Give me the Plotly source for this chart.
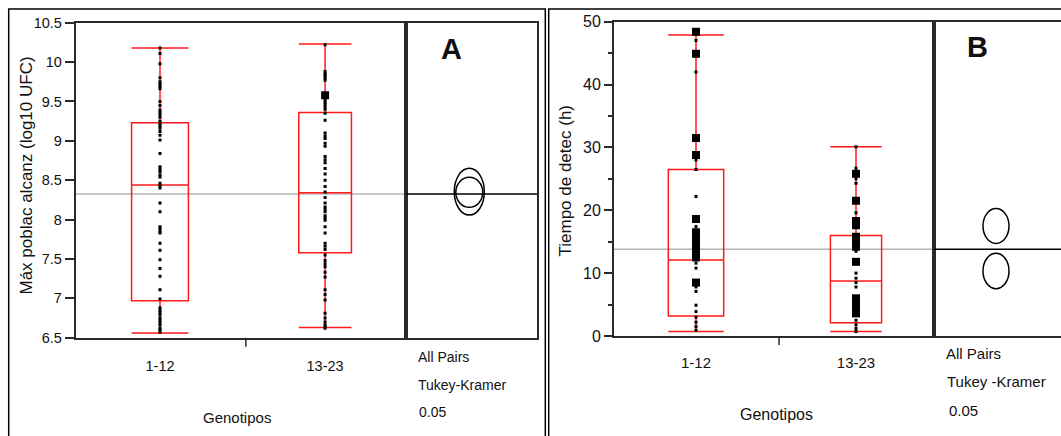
import plotly.graph_objects as go

W, H = 1061, 436
def fx(p): return p / W
def fy(p): return 1 - p / H

# ---------------- data ----------------
categories = ["1-12", "13-23"]
cat_pos_A = [1.0, 2.0]
cat_pos_B = [1.0, 2.0]

# Panel A: Máx poblac alcanz (log10 UFC)
A_lowerfence = [6.56, 6.63]
A_q1 = [6.97, 7.58]
A_median = [8.44, 8.34]
A_q3 = [9.23, 9.36]
A_upperfence = [10.18, 10.23]
A_pts_1_12 = [10.18, 10.11, 9.98, 9.80, 9.75, 9.72, 9.69, 9.66, 9.50, 9.45, 9.39, 9.36,
              9.33, 9.30, 9.25, 9.22, 9.19, 9.16, 9.12, 9.07, 9.01, 8.84, 8.67, 8.64,
              8.61, 8.57, 8.54, 8.46, 8.43, 8.40, 8.21, 8.10, 7.91, 7.88, 7.85, 7.83,
              7.70, 7.61, 7.49, 7.38, 7.28, 7.11, 6.99, 6.88, 6.85, 6.82, 6.79, 6.75,
              6.72, 6.69, 6.66, 6.62, 6.60, 6.57]
A_pts_13_23 = [10.22, 9.88, 9.85, 9.83, 9.80, 9.77, 9.52, 9.49, 9.46, 9.43, 9.40, 9.35,
               9.26, 9.10, 9.06, 9.03, 8.97, 8.93, 8.80, 8.76, 8.72, 8.65, 8.58, 8.50,
               8.42, 8.35, 8.28, 8.21, 8.16, 8.13, 8.10, 8.05, 8.02, 7.99, 7.91, 7.83,
               7.70, 7.66, 7.62, 7.55, 7.48, 7.44, 7.40, 7.33, 7.27, 7.11, 7.05, 6.98,
               6.81, 6.75, 6.70, 6.66, 6.64, 6.62]
A_big_13_23 = [9.58]
A_grand_mean = 8.325
A_circle_centers = [8.354, 8.346]
A_circle_yhalf = [0.297, 0.19]

# Panel B: Tiempo de detec (h)
B_lowerfence = [0.7, 0.7]
B_q1 = [3.2, 2.1]
B_median = [12.1, 8.75]
B_q3 = [26.5, 16.0]
B_upperfence = [47.9, 30.1]
B_big_1_12 = [48.4, 44.9, 31.5, 28.8, 18.6, 16.5, 15.6, 14.8, 14.0, 13.2, 12.5, 8.5]
B_pts_1_12 = [47.0, 42.0, 28.0, 26.5, 22.2, 17.4, 11.6, 10.8, 7.8, 7.1, 4.9, 3.9, 3.0,
              2.2, 1.5, 0.9]
B_big_13_23 = [25.8, 21.5, 18.3, 17.6, 15.8, 15.0, 14.2, 11.8, 6.0, 5.2, 4.4, 3.6]
B_pts_13_23 = [30.1, 26.7, 25.0, 24.3, 19.6, 13.5, 10.0, 9.2, 8.5, 7.8, 2.5, 1.8, 1.2, 0.7]
B_grand_mean = 13.8
B_circle_centers = [17.5, 10.34]
B_circle_yhalf = [2.78, 2.82]

# ---------------- styling ----------------
RED = "#ff1a1a"
AX = "#2a2a2a"
NARROW = "Liberation Sans Narrow, Arial Narrow, Liberation Sans, Arial"
NORMAL = "Liberation Sans, Arial, sans-serif"

fig = go.Figure()

box_w_A = [0.344, 0.319]
box_w_B = [0.346, 0.32]

def add_boxes(xref, yref, pos, lf, q1, med, q3, uf, widths):
    for i in range(len(pos)):
        fig.add_trace(go.Box(
            x=[pos[i]], lowerfence=[lf[i]], q1=[q1[i]], median=[med[i]], q3=[q3[i]],
            upperfence=[uf[i]], width=widths[i], whiskerwidth=1,
            line=dict(color=RED, width=1.5), fillcolor="rgba(0,0,0,0)",
            boxpoints=False, xaxis=xref, yaxis=yref, showlegend=False, hoverinfo="skip"))

def add_pts(xref, yref, x, ys, size):
    fig.add_trace(go.Scatter(
        x=[x] * len(ys), y=ys, mode="markers", xaxis=xref, yaxis=yref,
        marker=dict(symbol="square", size=size, color="black", line=dict(width=0)),
        showlegend=False, hoverinfo="skip"))

add_boxes("x", "y", cat_pos_A, A_lowerfence, A_q1, A_median, A_q3, A_upperfence, box_w_A)
add_pts("x", "y", cat_pos_A[0], A_pts_1_12, 3)
add_pts("x", "y", cat_pos_A[1], A_pts_13_23, 3)
add_pts("x", "y", cat_pos_A[1], A_big_13_23, 8)

add_boxes("x2", "y2", cat_pos_B, B_lowerfence, B_q1, B_median, B_q3, B_upperfence, box_w_B)
add_pts("x2", "y2", cat_pos_B[0], B_pts_1_12, 3)
add_pts("x2", "y2", cat_pos_B[1], B_pts_13_23, 3)
add_pts("x2", "y2", cat_pos_B[0], B_big_1_12, 8)
add_pts("x2", "y2", cat_pos_B[1], B_big_13_23, 8)

# ---------------- axes ----------------
A_top, A_bot = 22.7, 337.7
B_top, B_bot = 21.7, 336.0
common_line = dict(showline=True, linecolor=AX, linewidth=2, showgrid=False, zeroline=False,
                   automargin=False)

fig.update_layout(
    width=W, height=H, margin=dict(l=0, r=0, t=0, b=0, pad=0, autoexpand=False),
    paper_bgcolor="white", plot_bgcolor="white", showlegend=False,
    xaxis=dict(domain=[fx(75.8), fx(406)], range=[0.49, 2.49], anchor="y", mirror=True,
               tickvals=cat_pos_A, ticktext=categories, ticks="", ticklabelstandoff=14,
               tickfont=dict(family=NARROW, size=14.5, color="#111"), **common_line),
    yaxis=dict(domain=[fy(A_bot), fy(A_top)], range=[6.5, 10.5], anchor="x", mirror=True,
               dtick=0.5, ticks="outside", ticklen=9, tickcolor=AX, tickwidth=1.5,
               tickfont=dict(family=NARROW, size=14.5, color="#111"), **common_line),
    xaxis3=dict(domain=[fx(406), fx(537)], range=[0, 131], anchor="y3", mirror=True,
                showticklabels=False, ticks="", **common_line),
    yaxis3=dict(domain=[fy(A_bot), fy(A_top)], range=[6.5, 10.5], anchor="x3", mirror=True,
                showticklabels=False, ticks="", **common_line),
    xaxis2=dict(domain=[fx(614), fx(934)], range=[0.4875, 2.4875], anchor="y2", mirror=True,
                tickvals=cat_pos_B, ticktext=categories, ticks="", ticklabelstandoff=12,
                tickfont=dict(family=NORMAL, size=15, color="#111"), **common_line),
    yaxis2=dict(domain=[fy(B_bot), fy(B_top)], range=[0, 50], anchor="x2", mirror=True,
                dtick=10, ticks="outside", ticklen=8, tickcolor=AX, tickwidth=1.5,
                minor=dict(dtick=5, ticks="outside", ticklen=4, tickcolor=AX, tickwidth=1.5),
                tickfont=dict(family=NORMAL, size=16, color="#111"), **common_line),
    xaxis4=dict(domain=[fx(934), 1.0], range=[0, 127], anchor="y4", mirror=True,
                showticklabels=False, ticks="", **common_line),
    yaxis4=dict(domain=[fy(B_bot), fy(B_top)], range=[0, 50], anchor="x4", mirror=False,
                showticklabels=False, ticks="", **common_line),
)

shapes = []
# grand mean lines
shapes.append(dict(type="line", xref="x domain", yref="y", x0=0, x1=1, y0=A_grand_mean, y1=A_grand_mean,
                   line=dict(color="#b4b4b4", width=1.5), layer="below"))
shapes.append(dict(type="line", xref="x3 domain", yref="y3", x0=0, x1=1, y0=A_grand_mean, y1=A_grand_mean,
                   line=dict(color="black", width=1.5)))
shapes.append(dict(type="line", xref="x2 domain", yref="y2", x0=0, x1=1, y0=B_grand_mean, y1=B_grand_mean,
                   line=dict(color="#b4b4b4", width=1.5), layer="below"))
shapes.append(dict(type="line", xref="x4 domain", yref="y4", x0=0, x1=1, y0=B_grand_mean, y1=B_grand_mean,
                   line=dict(color="black", width=1.5)))
# comparison circles
A_cx, A_xhalf = 63.3, [15.0, 13.5]
for c, yh, xh in zip(A_circle_centers, A_circle_yhalf, A_xhalf):
    shapes.append(dict(type="circle", xref="x3", yref="y3", x0=A_cx - xh, x1=A_cx + xh,
                       y0=c - yh, y1=c + yh, line=dict(color="black", width=1.5)))
B_cx, B_xhalf = 62.0, [13.0, 13.0]
for c, yh, xh in zip(B_circle_centers, B_circle_yhalf, B_xhalf):
    shapes.append(dict(type="circle", xref="x4", yref="y4", x0=B_cx - xh, x1=B_cx + xh,
                       y0=c - yh, y1=c + yh, line=dict(color="black", width=1.5)))
# category separator ticks
shapes.append(dict(type="line", xref="x", yref="paper", x0=1.52, x1=1.52, y0=fy(A_bot), y1=fy(A_bot + 9),
                   line=dict(color=AX, width=1.5)))
shapes.append(dict(type="line", xref="x2", yref="paper", x0=1.519, x1=1.519, y0=fy(B_bot), y1=fy(B_bot + 9),
                   line=dict(color=AX, width=1.5)))
# outer panel frames
shapes.append(dict(type="rect", xref="paper", yref="paper", x0=fx(8.7), x1=fx(545.3), y0=fy(445), y1=fy(9),
                   line=dict(color="black", width=1.5)))
shapes.append(dict(type="rect", xref="paper", yref="paper", x0=fx(548.7), x1=fx(1075), y0=fy(445), y1=fy(9),
                   line=dict(color="black", width=1.5)))
fig.update_layout(shapes=shapes)

ann = []
def txt(x, y, s, font, size, xanchor="left", bold=False, angle=0):
    ann.append(dict(x=fx(x), y=fy(y), xref="paper", yref="paper", text=("<b>%s</b>" % s) if bold else s,
                    showarrow=False, xanchor=xanchor, yanchor="middle", textangle=angle,
                    font=dict(family=font, size=size, color="#111")))

txt(26, 175.5, "Máx poblac alcanz (log10 UFC)", NORMAL, 17, "center", angle=-90)
txt(236.7, 417.3, "Genotipos", NARROW, 15, "center")
txt(416, 356.7, "All Pairs", NARROW, 14)
txt(416, 385, "Tukey-Kramer", NARROW, 14)
txt(417.3, 412.3, "0.05", NARROW, 14)
txt(451, 49, "A", "Liberation Sans, Arial", 29, "center", bold=True)

txt(565, 180.5, "Tiempo de detec (h)", NORMAL, 17, "center", angle=-90)
txt(776.7, 414.3, "Genotipos", NORMAL, 16, "center")
txt(944, 353.3, "All Pairs", NORMAL, 15)
txt(945, 381.7, "Tukey -Kramer", NORMAL, 15)
txt(947.3, 410, "0.05", NORMAL, 15)
txt(977, 47, "B", "Liberation Sans, Arial", 29, "center", bold=True)
fig.update_layout(annotations=ann)

fig.write_html("out.html")
